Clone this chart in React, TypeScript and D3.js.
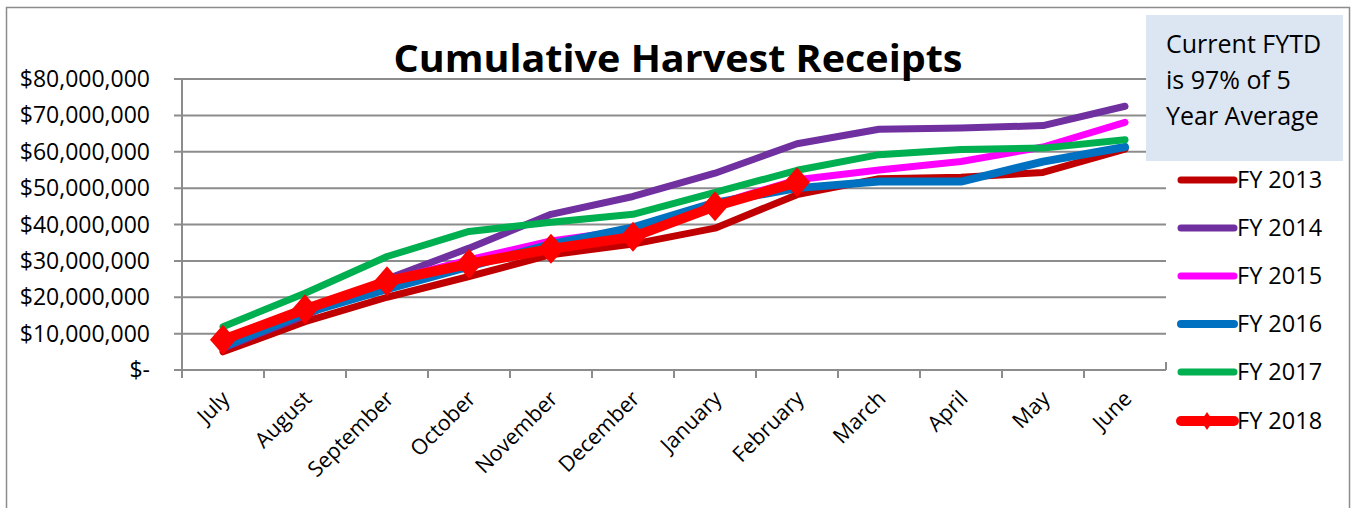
import React, { useRef, useEffect } from 'react';
import * as d3 from 'd3';

const months = ['July', 'August', 'September', 'October', 'November', 'December',
  'January', 'February', 'March', 'April', 'May', 'June'];

const fy2013 = [5.0, 13.3, 20.0, 25.7, 31.7, 34.6, 39.0, 48.2, 52.6, 53.0, 54.3, 60.7];
const fy2014 = [6.0, 15.0, 25.0, 33.5, 42.8, 47.7, 54.1, 62.2, 66.2, 66.5, 67.2, 72.5];
const fy2015 = [6.8, 15.8, 24.5, 30.3, 35.5, 38.6, 45.5, 52.3, 55.0, 57.3, 61.3, 68.1];
const fy2016 = [6.4, 15.6, 22.2, 28.4, 34.6, 39.2, 46.0, 50.0, 51.8, 51.8, 57.3, 61.3];
const fy2017 = [11.9, 21.1, 31.2, 38.1, 40.6, 42.8, 48.8, 54.9, 59.2, 60.6, 61.0, 63.3];
const fy2018 = [8.3, 16.7, 24.4, 29.2, 33.3, 36.6, 45.0, 51.6];

const yTicks = [0, 10, 20, 30, 40, 50, 60, 70, 80];

const series = [
  { name: 'FY 2013', values: fy2013, color: '#C00000', width: 7 },
  { name: 'FY 2014', values: fy2014, color: '#7030A0', width: 7 },
  { name: 'FY 2015', values: fy2015, color: '#FF00FF', width: 7 },
  { name: 'FY 2016', values: fy2016, color: '#0070C0', width: 8 },
  { name: 'FY 2017', values: fy2017, color: '#00B050', width: 7 },
  { name: 'FY 2018', values: fy2018, color: '#FF0000', width: 10, marker: true },
];

const font = '"Open Sans", sans-serif';

const App = () => {
  const svgRef = useRef<SVGSVGElement>(null);

  useEffect(() => {
    const svg = d3.select(svgRef.current);
    svg.selectAll('*').remove();

    const left = 182, right = 1166, top = 79, bottom = 370;

    const x = d3.scaleBand().domain(months).range([left, right]);
    const y = d3.scaleLinear().domain([0, 80]).range([bottom, top]);

    // chart border
    svg.append('rect')
      .attr('x', 6.5).attr('y', 7.5).attr('width', 1343).attr('height', 520)
      .attr('fill', '#fff').attr('stroke', '#8c8c8c').attr('stroke-width', 1.5);

    // gridlines
    svg.append('g').selectAll('line').data(yTicks).enter().append('line')
      .attr('x1', left - 8).attr('x2', right)
      .attr('y1', d => y(d)).attr('y2', d => y(d))
      .attr('stroke', '#8c8c8c').attr('stroke-width', 2);

    // y axis line
    svg.append('line')
      .attr('x1', left).attr('x2', left).attr('y1', top).attr('y2', bottom + 8)
      .attr('stroke', '#8c8c8c').attr('stroke-width', 2);

    // x ticks
    const bounds = months.map(m => x(m)!).concat([right]);
    svg.append('g').selectAll('line').data(bounds).enter().append('line')
      .attr('x1', d => d).attr('x2', d => d)
      .attr('y1', bottom).attr('y2', (d, i) => i === bounds.length - 1 ? bottom - 8 : bottom + 8)
      .attr('stroke', '#8c8c8c').attr('stroke-width', 2);

    // y labels
    svg.append('g').selectAll('text').data(yTicks).enter().append('text')
      .attr('x', 150).attr('y', d => y(d) + 8)
      .attr('text-anchor', 'end')
      .style('font-family', font).style('font-size', '23px').attr('fill', '#000')
      .text(d => d === 0 ? '$-' : '$' + d3.format(',')(d * 1000000));

    // x labels
    svg.append('g').selectAll('text').data(months).enter().append('text')
      .attr('transform', d => `translate(${x(d)! + x.bandwidth() / 2 + 8},${bottom + 30}) rotate(-45)`)
      .attr('text-anchor', 'end')
      .style('font-family', font).style('font-size', '21.5px').attr('fill', '#000')
      .text(d => d);

    // lines
    const line = d3.line<number>()
      .x((d, i) => x(months[i])! + x.bandwidth() / 2)
      .y(d => y(d));

    series.forEach(s => {
      svg.append('path')
        .attr('d', line(s.values))
        .attr('fill', 'none').attr('stroke', s.color).attr('stroke-width', s.width)
        .attr('stroke-linejoin', 'round').attr('stroke-linecap', 'round');
      if (s.marker) {
        svg.append('g').selectAll('path').data(s.values).enter().append('path')
          .attr('transform', (d, i) => `translate(${x(months[i])! + x.bandwidth() / 2},${y(d)})`)
          .attr('d', 'M0,-15L13,0L0,15L-13,0Z')
          .attr('fill', s.color);
      }
    });

    // title
    svg.append('text')
      .attr('x', 678).attr('y', 72).attr('text-anchor', 'middle')
      .attr('textLength', 569).attr('lengthAdjust', 'spacingAndGlyphs')
      .style('font-family', font).style('font-size', '37px').style('font-weight', 'bold')
      .attr('fill', '#000')
      .text('Cumulative Harvest Receipts');

    // legend
    const legendY = [180, 228, 276, 324, 372, 421];
    const lg = svg.append('g');
    series.forEach((s, i) => {
      lg.append('line')
        .attr('x1', 1181).attr('x2', 1234).attr('y1', legendY[i]).attr('y2', legendY[i])
        .attr('stroke', s.color).attr('stroke-width', s.width).attr('stroke-linecap', 'round');
      if (s.marker) {
        lg.append('path')
          .attr('transform', `translate(1207,${legendY[i]})`)
          .attr('d', 'M0,-9L6,0L0,9L-6,0Z').attr('fill', s.color);
      }
      lg.append('text')
        .attr('x', 1237).attr('y', legendY[i] + 8)
        .style('font-family', font).style('font-size', '23.5px').attr('fill', '#000')
        .text(s.name);
    });

    // note box
    svg.append('rect')
      .attr('x', 1146).attr('y', 15).attr('width', 197).attr('height', 146)
      .attr('fill', '#DCE6F2');
    ['Current FYTD', 'is 97% of 5', 'Year Average'].forEach((t, i) => {
      svg.append('text')
        .attr('x', 1166).attr('y', 53 + i * 36)
        .style('font-family', font).style('font-size', '25px').attr('fill', '#000')
        .text(t);
    });
  }, []);

  return (
    <div style={{ position: 'fixed', left: 0, top: 0 }}>
      <svg ref={svgRef} width={1352} height={508} style={{ display: 'block', background: '#fff' }}></svg>
    </div>
  );
};

export default App;
